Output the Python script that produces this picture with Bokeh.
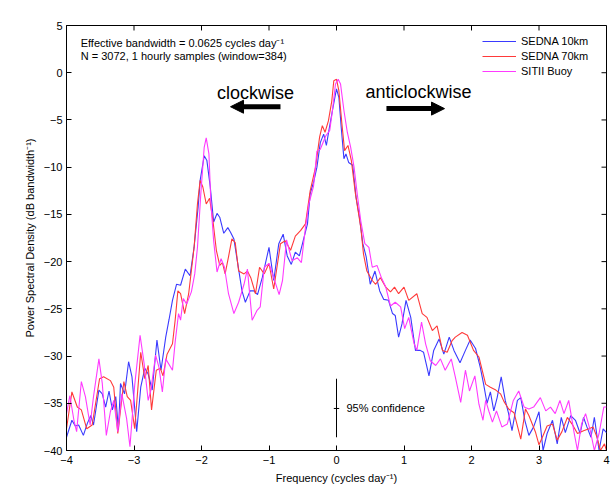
from bokeh.plotting import figure
from bokeh.models import (Range1d, FixedTicker, Label, Arrow, NormalHead,
                          Legend, LegendItem)
from bokeh.embed import file_html
from bokeh.resources import INLINE

# ---------------- data ----------------
freq_sedna10 = [-4.0, -3.92, -3.87, -3.82, -3.75, -3.69, -3.64, -3.60, -3.52, -3.47, -3.42, -3.37, -3.32,
                -3.27, -3.23, -3.20, -3.14, -3.08, -3.03, -2.96, -2.90, -2.84, -2.79, -2.73, -2.66, -2.60,
                -2.53, -2.48, -2.43, -2.37, -2.31, -2.24, -2.17, -2.11, -2.05, -2.02, -1.96, -1.92, -1.87,
                -1.82, -1.77, -1.73, -1.67, -1.61, -1.57, -1.52, -1.47, -1.40, -1.35, -1.28, -1.225, -1.17,
                -1.10, -1.00, -0.93, -0.855, -0.79, -0.73, -0.67, -0.61, -0.55, -0.48, -0.43, -0.39, -0.34,
                -0.29, -0.24, -0.19, -0.15, -0.11, -0.06, 0.0, 0.035, 0.07, 0.11, 0.14, 0.18, 0.24, 0.29,
                0.34, 0.39, 0.44, 0.50, 0.57, 0.64, 0.70, 0.77, 0.83, 0.87, 0.92, 0.97, 1.03, 1.10, 1.17,
                1.24, 1.29, 1.37, 1.44, 1.52, 1.59, 1.67, 1.74, 1.83, 1.91, 1.98, 2.06, 2.13, 2.18, 2.23,
                2.28, 2.33, 2.38, 2.44, 2.50, 2.55, 2.60, 2.68, 2.73, 2.79, 2.85, 2.92, 3.00, 3.06, 3.12,
                3.20, 3.27, 3.33, 3.39, 3.47, 3.54, 3.61, 3.66, 3.71, 3.77, 3.82, 3.89, 3.95, 4.0]
psd_sedna10 = [-38.6, -36.8, -37.4, -37.3, -38.4, -37.1, -36.3, -37.3, -33.6, -34.0, -35.4, -33.7, -35.7,
               -34.3, -37.8, -32.9, -34.0, -30.6, -32.2, -38.0, -33.3, -31.3, -31.9, -33.6, -28.3, -31.5,
               -28.0, -26.1, -24.1, -22.4, -22.5, -20.8, -21.5, -18.5, -14.25, -11.4, -8.8, -9.3, -12.1,
               -15.8, -14.9, -15.3, -17.0, -16.4, -16.9, -17.6, -19.9, -23.1, -24.3, -23.1, -23.1, -23.5,
               -21.7, -18.5, -22.0, -18.1, -17.1, -19.4, -20.3, -19.0, -19.4, -17.4, -16.0, -12.8, -11.6,
               -10.0, -7.4, -6.5, -7.7, -6.0, -4.0, -1.7, -2.6, -5.8, -9.1, -8.6, -9.5, -9.8, -13.2,
               -15.3, -18.1, -19.5, -22.4, -21.0, -23.1, -24.0, -24.1, -25.5, -25.7, -28.0, -26.6, -24.1,
               -25.9, -29.4, -29.4, -29.6, -32.1, -29.4, -28.2, -29.8, -28.0, -29.4, -30.7, -29.4, -28.3,
               -29.2, -31.2, -33.0, -35.0, -33.8, -35.8, -34.4, -32.2, -34.7, -36.1, -37.9, -34.7, -34.4,
               -36.8, -38.4, -37.5, -35.9, -40.0, -38.2, -36.8, -39.3, -36.5, -38.1, -36.3, -36.8, -38.2,
               -36.5, -37.5, -38.6, -36.5, -40.0, -37.7, -38.1]

freq_sedna70 = [-4.0, -3.92, -3.84, -3.78, -3.70, -3.62, -3.51, -3.45, -3.35, -3.30, -3.24, -3.15, -3.10,
                -3.05, -2.99, -2.90, -2.84, -2.79, -2.74, -2.67, -2.61, -2.57, -2.51, -2.43, -2.39, -2.35,
                -2.31, -2.25, -2.19, -2.11, -2.06, -2.02, -1.98, -1.93, -1.88, -1.83, -1.78, -1.73, -1.69,
                -1.65, -1.60, -1.55, -1.50, -1.45, -1.37, -1.32, -1.27, -1.20, -1.14, -1.07, -1.00, -0.93,
                -0.83, -0.76, -0.68, -0.61, -0.53, -0.46, -0.39, -0.31, -0.25, -0.21, -0.17, -0.12, -0.07,
                -0.04, 0.0, 0.035, 0.08, 0.12, 0.17, 0.22, 0.28, 0.36, 0.40, 0.45, 0.53, 0.58, 0.65, 0.73,
                0.80, 0.86, 0.92, 1.0, 1.07, 1.19, 1.27, 1.34, 1.42, 1.49, 1.57, 1.64, 1.71, 1.76, 1.86,
                1.94, 2.03, 2.11, 2.21, 2.28, 2.36, 2.43, 2.48, 2.55, 2.63, 2.73, 2.80, 2.85, 2.95, 3.0,
                3.05, 3.12, 3.20, 3.27, 3.34, 3.42, 3.49, 3.57, 3.66, 3.74, 3.80, 3.86, 3.91, 3.97, 4.0]
psd_sedna70 = [-37.7, -33.8, -35.4, -35.7, -37.7, -37.3, -32.4, -32.2, -32.6, -33.3, -38.2, -32.7, -34.3,
               -34.7, -37.7, -29.6, -32.4, -31.0, -35.7, -31.5, -31.3, -32.1, -29.8, -28.7, -26.2, -23.1,
               -23.4, -25.5, -23.4, -18.5, -13.9, -11.4, -12.1, -13.9, -13.3, -15.7, -18.8, -20.4, -20.1,
               -21.3, -19.5, -17.6, -18.0, -21.0, -21.3, -21.0, -21.7, -23.4, -20.6, -21.3, -20.2, -22.9,
               -18.1, -17.8, -18.8, -17.3, -16.7, -16.0, -12.5, -10.0, -6.8, -5.6, -6.3, -5.1, -3.0,
               -0.85, -0.7, -1.9, -5.4, -8.25, -7.7, -9.3, -12.8, -16.4, -19.2, -21.0, -22.0, -22.4, -21.7,
               -22.7, -23.2, -22.7, -23.4, -22.7, -24.1, -23.4, -25.5, -25.9, -27.3, -26.8, -29.4, -29.6,
               -28.4, -28.0, -27.5, -27.8, -29.4, -30.1, -33.0, -33.3, -33.6, -34.0, -34.8, -35.6, -36.0,
               -38.8, -35.6, -36.3, -38.1, -39.4, -38.6, -37.4, -37.2, -38.9, -38.0, -36.5, -37.2, -38.2,
               -37.9, -37.7, -37.5, -38.6, -40.0, -39.3, -40.0]

freq_sitii = [-4.0, -3.95, -3.89, -3.85, -3.78, -3.72, -3.65, -3.60, -3.52, -3.47, -3.41, -3.35, -3.30,
              -3.24, -3.18, -3.11, -3.06, -2.99, -2.91, -2.85, -2.79, -2.75, -2.68, -2.63, -2.58, -2.53,
              -2.43, -2.39, -2.34, -2.31, -2.27, -2.22, -2.15, -2.10, -2.06, -2.01, -1.96, -1.93, -1.89,
              -1.86, -1.82, -1.77, -1.71, -1.66, -1.60, -1.52, -1.45, -1.37, -1.32, -1.25, -1.18, -1.13,
              -1.07, -1.00, -0.93, -0.85, -0.80, -0.74, -0.66, -0.58, -0.52, -0.46, -0.41, -0.34, -0.29,
              -0.24, -0.16, -0.10, -0.06, -0.015, 0.025, 0.06, 0.11, 0.16, 0.21, 0.26, 0.31, 0.36, 0.42,
              0.48, 0.53, 0.60, 0.67, 0.73, 0.80, 0.87, 0.95, 1.01, 1.07, 1.15, 1.19, 1.26, 1.32, 1.39,
              1.47, 1.54, 1.61, 1.70, 1.76, 1.84, 1.91, 1.97, 2.05, 2.11, 2.17, 2.21, 2.26, 2.31, 2.37,
              2.45, 2.53, 2.62, 2.70, 2.78, 2.85, 2.92, 3.02, 3.10, 3.17, 3.24, 3.31, 3.37, 3.44, 3.52,
              3.57, 3.63, 3.69, 3.76, 3.82, 3.89, 3.96, 4.0]
psd_sitii = [-36.1, -34.2, -36.8, -38.0, -32.7, -34.3, -37.3, -34.3, -30.3, -32.9, -38.4, -35.9, -34.7,
             -38.0, -34.0, -36.6, -39.6, -33.1, -27.8, -30.8, -34.7, -33.6, -29.9, -31.2, -33.8, -30.3,
             -31.5, -28.5, -25.5, -26.2, -23.9, -24.5, -23.2, -21.3, -18.5, -12.8, -7.9, -6.9, -8.6,
             -13.9, -17.8, -21.1, -19.7, -20.6, -23.4, -25.5, -24.3, -22.4, -20.8, -26.2, -25.2, -24.8,
             -20.6, -20.2, -21.7, -23.5, -22.0, -17.7, -19.9, -19.6, -20.1, -16.4, -13.9, -12.0, -8.3,
             -8.1, -6.7, -6.1, -4.0, -1.2, -0.7, -1.2, -4.0, -6.3, -7.9, -10.0, -13.0, -15.7, -18.1,
             -18.5, -20.6, -20.4, -21.8, -22.7, -24.7, -24.3, -24.8, -27.1, -25.9, -28.7, -29.4, -26.4,
             -28.7, -30.5, -31.0, -30.3, -31.5, -30.3, -32.2, -34.9, -31.5, -33.7, -32.1, -35.1, -36.8,
             -34.7, -35.9, -37.0, -35.8, -37.5, -37.2, -34.7, -33.7, -35.4, -35.6, -35.4, -34.4, -35.8,
             -35.4, -36.1, -34.7, -36.1, -34.7, -38.1, -40.0, -37.2, -36.1, -37.9, -40.0, -38.2, -35.4,
             -35.4]

series_names = ["SEDNA 10km", "SEDNA 70km", "SITII Buoy"]
series_colors = ["#3a3aff", "#ff3a3a", "#ff3aff"]
x_ticks = [-4, -3, -2, -1, 0, 1, 2, 3, 4]
y_ticks = [-40, -35, -30, -25, -20, -15, -10, -5, 0, 5]

title_text = "Buoy rotary spectra"
note_lines = ["Effective bandwidth = 0.0625 cycles day\u207b\u00b9",
              "N = 3072, 1 hourly samples (window=384)"]
conf_x = [0.0, 0.0]
conf_y = [-32.4, -38.6]
conf_mid = -35.55

FONT = "Liberation Sans"
X_MIN, X_MAX, Y_MIN, Y_MAX = -4, 4, -40, 5

p = figure(width=610, height=490, output_backend="svg", toolbar_location=None,
           x_range=Range1d(X_MIN, X_MAX), y_range=Range1d(Y_MIN, Y_MAX),
           min_border_left=66, min_border_right=4, min_border_top=25, min_border_bottom=40,
           background_fill_color="white", border_fill_color="white")
p.outline_line_color = "#000000"
p.outline_line_width = 1
p.xgrid.visible = False
p.ygrid.visible = False

for ax, ticks in [(p.xaxis[0], x_ticks), (p.yaxis[0], y_ticks)]:
    ax.ticker = FixedTicker(ticks=ticks)
    ax.major_tick_in = 5
    ax.major_tick_out = 0
    ax.minor_tick_line_color = None
    ax.axis_line_color = "#000000"
    ax.major_tick_line_color = "#000000"
    ax.major_label_text_font = FONT
    ax.major_label_text_font_size = "11px"
    ax.major_label_text_color = "#000000"
    ax.axis_label_text_font = FONT
    ax.axis_label_text_font_size = "11px"
    ax.axis_label_text_font_style = "normal"
    ax.axis_label_text_color = "#000000"

p.xaxis[0].axis_label = "Frequency (cycles day\u207b\u00b9)"
p.yaxis[0].axis_label = "Power Spectral Density (dB bandwidth\u207b\u00b9)"
p.xaxis[0].major_label_standoff = 5
p.xaxis[0].axis_label_standoff = 5
p.yaxis[0].major_label_standoff = 4
p.yaxis[0].axis_label_standoff = 5

# inward ticks on the top and right edges of the box (MATLAB style)
tick_dy = 5 / 9.45   # 5 px in data units
tick_dx = 5 / 67.5
p.segment(x0=x_ticks, y0=[Y_MAX] * len(x_ticks), x1=x_ticks, y1=[Y_MAX - tick_dy] * len(x_ticks),
          line_color="#000000", line_width=1)
p.segment(x0=[X_MAX] * len(y_ticks), y0=y_ticks, x1=[X_MAX - tick_dx] * len(y_ticks), y1=y_ticks,
          line_color="#000000", line_width=1)

renderers = []
for fx, fy, c in [(freq_sedna10, psd_sedna10, series_colors[0]),
                  (freq_sedna70, psd_sedna70, series_colors[1]),
                  (freq_sitii, psd_sitii, series_colors[2])]:
    renderers.append(p.line(fx, fy, line_color=c, line_width=1.1))

legend = Legend(items=[LegendItem(label=n, renderers=[r]) for n, r in zip(series_names, renderers)],
                location=(416, 372), padding=0, margin=0, spacing=1,
                glyph_width=34, glyph_height=14, label_height=14, label_standoff=5,
                border_line_color=None, background_fill_alpha=0,
                label_text_font=FONT, label_text_font_size="11px", label_text_color="#000000")
p.add_layout(legend)

# title
p.add_layout(Label(x=0, y=6.35, text=title_text, text_align="center", text_baseline="middle",
                   text_font=FONT, text_font_size="11px", text_color="#000000"))
# notes
p.add_layout(Label(x=-3.79, y=3.2, text=note_lines[0], text_baseline="middle",
                   text_font=FONT, text_font_size="11px", text_color="#000000"))
p.add_layout(Label(x=-3.79, y=1.75, text=note_lines[1], text_baseline="middle",
                   text_font=FONT, text_font_size="11px", text_color="#000000"))

# direction labels and arrows
p.add_layout(Label(x=-1.2, y=-2.1, text="clockwise", text_align="center", text_baseline="middle",
                   text_font=FONT, text_font_size="18px", text_color="#000000"))
p.add_layout(Label(x=1.215, y=-2.0, text="anticlockwise", text_align="center", text_baseline="middle",
                   text_font=FONT, text_font_size="18px", text_color="#000000"))
p.add_layout(Arrow(x_start=-0.83, y_start=-3.6, x_end=-1.57, y_end=-3.6, line_width=5,
                   line_color="black",
                   end=NormalHead(size=13, fill_color="black", line_color="black", line_width=1)))
p.add_layout(Arrow(x_start=0.74, y_start=-3.8, x_end=1.6, y_end=-3.8, line_width=5,
                   line_color="black",
                   end=NormalHead(size=13, fill_color="black", line_color="black", line_width=1)))

# confidence bar
p.line(conf_x, conf_y, line_color="#000000", line_width=1)
p.segment(x0=[-0.04], y0=[conf_mid], x1=[0.04], y1=[conf_mid], line_color="#000000", line_width=1)
p.add_layout(Label(x=0.148, y=conf_mid, text="95% confidence", text_baseline="middle",
                   text_font=FONT, text_font_size="11px", text_color="#000000"))

open("out.html", "w").write(file_html(p, INLINE))
